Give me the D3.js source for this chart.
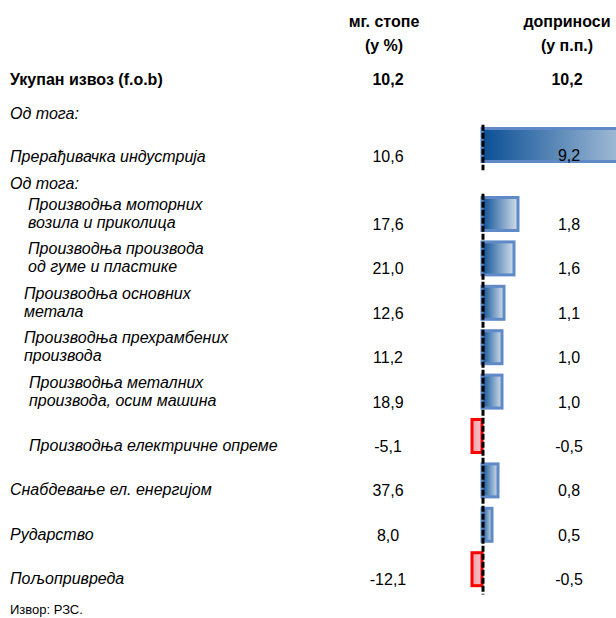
<!DOCTYPE html>
<html>
<head>
<meta charset="utf-8">
<script src="https://cdn.jsdelivr.net/npm/d3@7"></script>
<style>
  body { margin: 0; background: #fff; }
  text { font-family: "Liberation Sans", Arial, sans-serif; fill: #000; }
  .lbl { font-size: 16px; font-style: italic; }
  .val { font-size: 16px; text-anchor: middle; }
  .bold { font-weight: bold; }
</style>
</head>
<body>
<div id="chart"></div>
<script>
// Data
const totalLabel = "Укупан извоз (f.o.b)";
const totalGrowth = 10.2;
const totalContrib = 10.2;

const mainLabel = "Прерађивачка индустрија";
const mainGrowth = 10.6;
const mainContrib = 9.2;

const rowLabels = [
  ["Производња моторних", "возила и приколица"],
  ["Производња производа", "од гуме и пластике"],
  ["Производња основних", "метала"],
  ["Производња прехрамбених", "производа"],
  ["Производња металних", "производа, осим машина"],
  ["Производња електричне опреме"],
  ["Снабдевање ел. енергијом"],
  ["Рударство"],
  ["Пољопривреда"]
];
const growth = [17.6, 21.0, 12.6, 11.2, 18.9, -5.1, 37.6, 8.0, -12.1];
const contrib = [1.8, 1.6, 1.1, 1.0, 1.0, -0.5, 0.8, 0.5, -0.5];

// layout only
const labelIndent = [28, 28, 24, 24, 29, 29, 10, 10, 10];

const width = 616, height = 618;
const colGrowth = 388, colContrib = 569;

const locale = d3.formatLocale({decimal: ",", thousands: ".", grouping: [3], currency: ["", ""], minus: "-"});
const fmt = locale.format(".1f");

const svg = d3.select("#chart")
  .append("svg")
  .attr("width", width)
  .attr("height", height);

svg.append("rect").attr("width", width).attr("height", height).attr("fill", "#fff");

const defs = svg.append("defs");
const gBlue = defs.append("linearGradient").attr("id", "gBlue").attr("x1", 0).attr("x2", 1).attr("y1", 0).attr("y2", 0);
gBlue.append("stop").attr("offset", 0).attr("stop-color", "#0a4f95");
gBlue.append("stop").attr("offset", 1).attr("stop-color", "#d3dfeb");
const gRed = defs.append("linearGradient").attr("id", "gRed").attr("x1", 0).attr("x2", 1).attr("y1", 0).attr("y2", 0);
gRed.append("stop").attr("offset", 0).attr("stop-color", "#f4a0a8");
gRed.append("stop").attr("offset", 1).attr("stop-color", "#f8c4ca");

// Scales
const x = d3.scaleLinear().domain([-1, 10]).range([462, 682]);

const idx = d3.range(rowLabels.length);
const y = d3.scaleBand()
  .domain(idx)
  .range([191.8, 591.4])
  .paddingInner(0.257)
  .paddingOuter(0.1285);

const yMain = d3.scaleBand()
  .domain(["main"])
  .range([122.8, 167.2])
  .paddingInner(0.257)
  .paddingOuter(0.1285);

// Header
svg.append("text").attr("class", "val bold").attr("x", colGrowth - 4).attr("y", 27).text("мг. стопе");
svg.append("text").attr("class", "val bold").attr("x", colGrowth - 4).attr("y", 51).text("(у %)");
svg.append("text").attr("class", "val bold").attr("x", colContrib - 2).attr("y", 27).text("доприноси");
svg.append("text").attr("class", "val bold").attr("x", colContrib - 2).attr("y", 51).text("(у п.п.)");

// Total row
svg.append("text").attr("class", "bold").style("font-size", "16px").attr("x", 10).attr("y", 85).text(totalLabel);
svg.append("text").attr("class", "val bold").attr("x", colGrowth).attr("y", 85).text(fmt(totalGrowth));
svg.append("text").attr("class", "val bold").attr("x", colContrib - 2).attr("y", 85).text(fmt(totalContrib));

svg.append("text").attr("class", "lbl").attr("x", 10).attr("y", 119).text("Од тога:");

// Bars
function barAttrs(sel, yScale, key) {
  sel.attr("x", d => x(Math.min(0, d.v)))
    .attr("width", d => Math.abs(x(d.v) - x(0)))
    .attr("y", d => yScale(key(d)))
    .attr("height", yScale.bandwidth())
    .attr("fill", d => d.v < 0 ? "url(#gRed)" : "url(#gBlue)")
    .attr("stroke", d => d.v < 0 ? "#ff0000" : "#5f8ac7")
    .attr("stroke-width", 3);
}

svg.append("g").selectAll("rect")
  .data([{k: "main", v: mainContrib}])
  .join("rect")
  .call(barAttrs, yMain, d => d.k);

svg.append("g").selectAll("rect")
  .data(contrib.map((v, i) => ({i, v})))
  .join("rect")
  .call(barAttrs, y, d => d.i);

// zero axis (dashed)
[yMain, y].forEach(s => {
  svg.append("line")
    .attr("x1", x(0) + 1).attr("x2", x(0) + 1)
    .attr("y1", s.range()[0] + 2).attr("y2", s.range()[1] + 3)
    .attr("stroke", "#000")
    .attr("stroke-width", 3)
    .attr("stroke-dasharray", "6,2");
});

// Main row texts
const mainC = yMain("main") + yMain.bandwidth() / 2;
svg.append("text").attr("class", "lbl").attr("x", 10).attr("y", mainC + 17).text(mainLabel);
svg.append("text").attr("class", "val").attr("x", colGrowth).attr("y", mainC + 17).text(fmt(mainGrowth));
svg.append("text").attr("class", "val").attr("x", colContrib).attr("y", mainC + 16).text(fmt(mainContrib));

svg.append("text").attr("class", "lbl").attr("x", 10).attr("y", 189).text("Од тога:");

// Row texts
const rows = svg.append("g").selectAll("g")
  .data(idx)
  .join("g")
  .attr("transform", i => `translate(0,${y(i) + y.bandwidth() / 2})`);

rows.append("text")
  .attr("class", "lbl")
  .attr("x", i => labelIndent[i])
  .attr("y", i => rowLabels[i].length > 1 ? -4 : 15)
  .each(function(i) {
    const t = d3.select(this);
    rowLabels[i].forEach((line, j) => {
      t.append("tspan").attr("x", labelIndent[i]).attr("dy", j === 0 ? 0 : 18).text(line);
    });
  });

rows.append("text").attr("class", "val").attr("x", colGrowth).attr("y", 16).text(i => fmt(growth[i]));
rows.append("text").attr("class", "val").attr("x", colContrib).attr("y", 16).text(i => fmt(contrib[i]));

// Source
svg.append("text").style("font-size", "13px").attr("x", 10).attr("y", 614).text("Извор: РЗС.");
</script>
</body>
</html>
